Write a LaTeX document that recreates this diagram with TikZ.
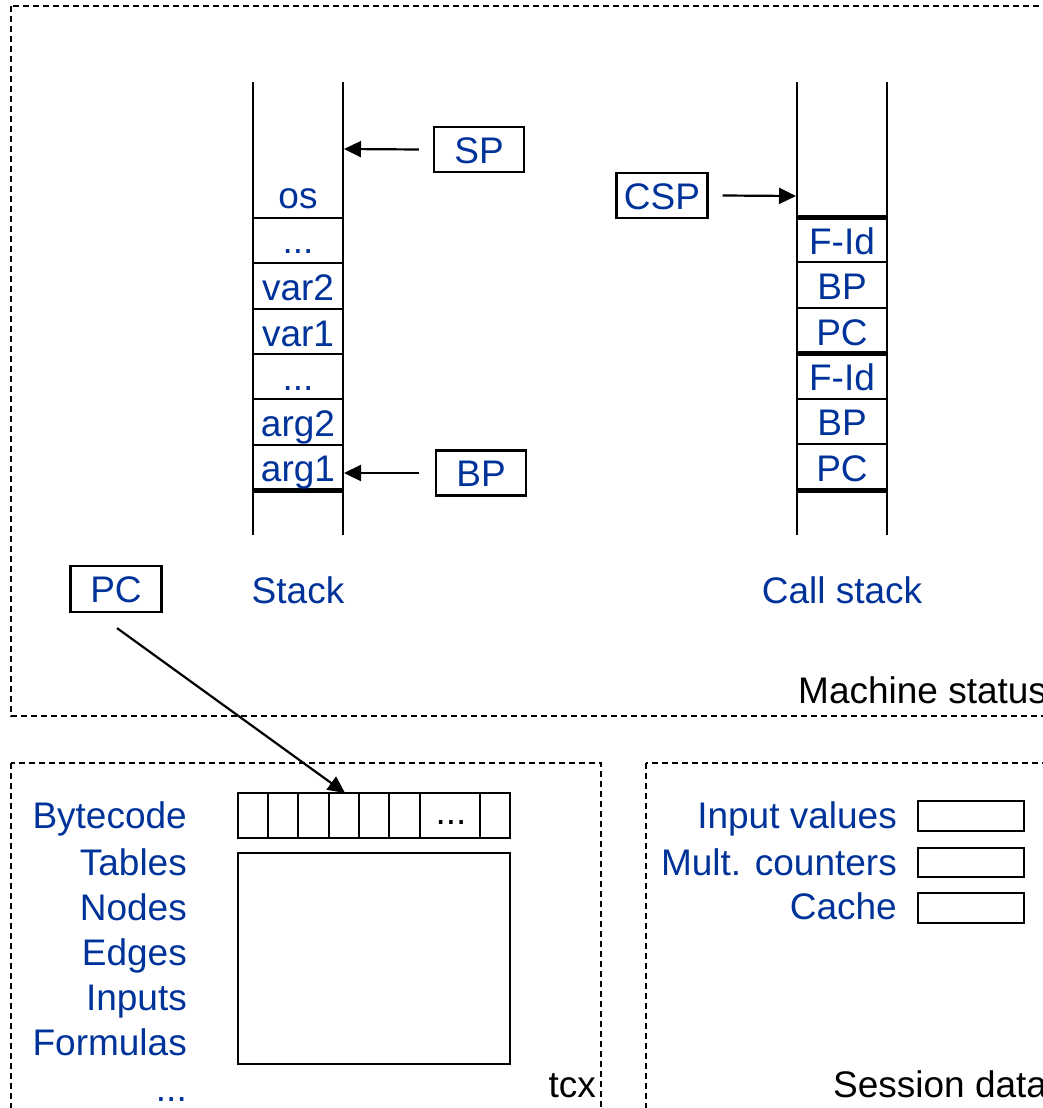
\documentclass[tikz,border=0pt]{standalone}
\usepackage{fontspec}
\setmainfont{Liberation Sans}
\usetikzlibrary{arrows.meta}
\definecolor{txtblue}{RGB}{0,51,153}
\begin{document}
\begin{tikzpicture}[x=1pt,y=-1pt,
  bigfont/.style={font=\fontsize{37}{44}\selectfont},
  lbl/.style={bigfont, text=txtblue, inner sep=0pt, anchor=base},
  lblr/.style={lbl, anchor=base east},
  blk/.style={bigfont, text=black, inner sep=0pt},
  ptr/.style={draw, line width=2.2pt, bigfont, text=txtblue, minimum width=90pt, minimum height=45pt, inner sep=0pt, text height=27pt, text depth=0pt},
  grp/.style={draw, line width=1.5pt, dash pattern=on 6pt off 4pt},
  wall/.style={line width=2.2pt},
  sep/.style={line width=2pt},
  bsep/.style={line width=5pt},
  cellbox/.style={draw, line width=2.2pt},
  arr/.style={line width=2.2pt, -{Triangle[length=17pt,width=16pt]}},
]
\useasboundingbox (0,0) rectangle (1043,1108);
\clip (0,0) rectangle (1043,1108);

% group boxes
\draw[grp] (11,6) rectangle (1070,716);
\draw[grp] (11,763) rectangle (601,1130);
\draw[grp] (646,763) rectangle (1070,1130);
\node[blk, anchor=base west] (msLbl) at (798,703) {Machine status};
\node[blk, anchor=base east] (tcxLbl) at (596,1097) {tcx};
\node[blk, anchor=base west] (sdLbl) at (833,1097) {Session data};

% ---------- Stack ----------
\draw[wall] (253,82) -- (253,535);
\draw[wall] (343,82) -- (343,535);
\foreach \y in {218,263,309,354,399,445} \draw[sep] (253,\y) -- (343,\y);
\draw[bsep] (253,490) -- (343,490);
\node[lbl] (sOs)   at (298,208) {os};
\node[lbl] (sDot1) at (298,253) {...};
\node[lbl] (sVar2) at (298,300) {var2};
\node[lbl] (sVar1) at (298,346) {var1};
\node[lbl] (sDot2) at (298,390) {...};
\node[lbl] (sArg2) at (298,436) {arg2};
\node[lbl] (sArg1) at (298,481) {arg1};
\node[lbl] (stackLbl) at (298,603) {Stack};

\node[ptr] (SP) at (479,149.5) {SP};
\node[ptr] (BP) at (481,473) {BP};
\coordinate (spT) at (344,149);
\coordinate (bpT) at (344,473);
\draw[arr] (SP.west) ++(-14,0) -- (spT);
\draw[arr] (BP.west) ++(-16,0) -- (bpT);

% ---------- Call stack ----------
\draw[wall] (797,82) -- (797,535);
\draw[wall] (887,82) -- (887,535);
\foreach \y in {262,308,399,444} \draw[sep] (797,\y) -- (887,\y);
\foreach \y in {217,353,490} \draw[bsep] (797,\y) -- (887,\y);
\node[lbl] (cF1)  at (842,254) {F-Id};
\node[lbl] (cB1)  at (842,299) {BP};
\node[lbl] (cP1)  at (842,345) {PC};
\node[lbl] (cF2)  at (842,390) {F-Id};
\node[lbl] (cB2)  at (842,435) {BP};
\node[lbl] (cP2)  at (842,481) {PC};
\node[lbl] (cstackLbl) at (842,603) {Call stack};

\node[ptr, minimum width=91pt] (CSP) at (662,195.5) {CSP};
\coordinate (cspT) at (796,196);
\draw[arr] (CSP.east) ++(14,0) -- (cspT);

% ---------- PC ----------
\node[ptr, minimum width=91pt, minimum height=46pt] (PC) at (116,589) {PC};

% ---------- tcx ----------
\node[lblr] (tBc)  at (187,828) {Bytecode};
\node[lblr] (tTb)  at (187,875) {Tables};
\node[lblr] (tNd)  at (187,920) {Nodes};
\node[lblr] (tEd)  at (187,965) {Edges};
\node[lblr] (tIn)  at (187,1010) {Inputs};
\node[lblr] (tFo)  at (187,1055) {Formulas};
\node[lblr] (tDt)  at (187,1101) {...};

\draw[cellbox] (238,793) rectangle (510,838);
\foreach \x in {268,298,329,359,389,420,480} \draw[line width=2.2pt] (\x,793) -- (\x,838);
\node[lbl, text=black] (bcDots) at (451,824) {...};
\draw[cellbox] (238,853) rectangle (510,1064);

\coordinate (bcT) at (345,793);
\draw[arr] (PC.south) ++(1,15) -- (bcT);

% ---------- Session data ----------
\node[lblr] (sdIn) at (897,828) {Input values};
\node[lblr] (sdMc) at (897,875) {Mult. counters};
\node[lblr] (sdCa) at (897,919) {Cache};
\draw[cellbox] (918,801) rectangle (1024,831);
\draw[cellbox] (918,848) rectangle (1024,877);
\draw[cellbox] (918,893) rectangle (1024,923);
\end{tikzpicture}
\end{document}
